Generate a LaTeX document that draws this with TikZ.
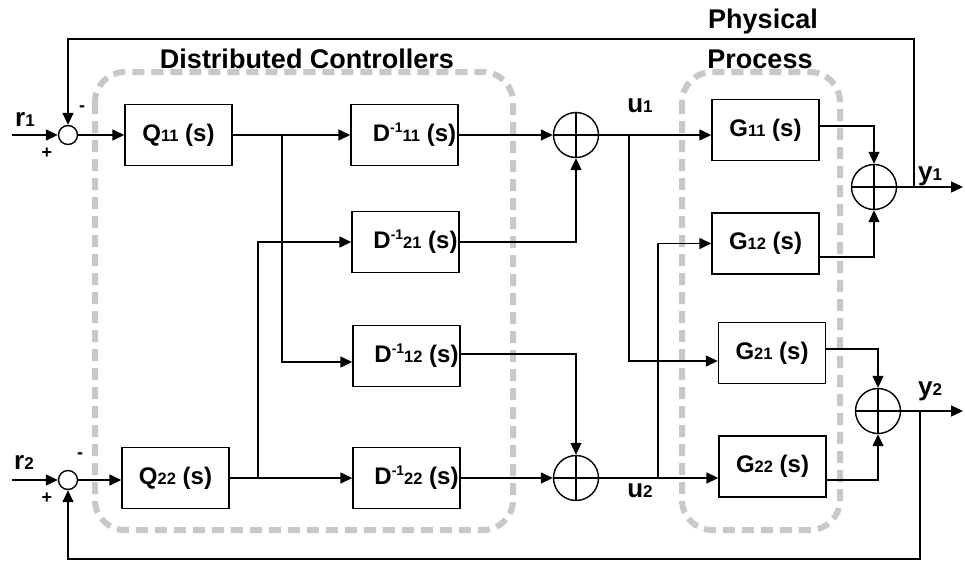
\documentclass[tikz,border=0pt]{standalone}
\usepackage{fontspec}
\setmainfont{Liberation Sans}
\usetikzlibrary{arrows.meta}
\definecolor{dgray}{RGB}{200,200,200}
\newcommand\subd[1]{{\fontsize{16.5}{18}\selectfont #1}}
\newcommand\lsub[1]{{\fontsize{17}{18}\selectfont #1}}
\newcommand\dlab[1]{\hspace*{20pt}D\raisebox{9pt}{\fontsize{14}{15}\selectfont -1}\subd{#1} (s)}
\newcommand\siglab[2]{{\fontsize{26}{28}\selectfont #1}\lsub{#2}}
\begin{document}
\begin{tikzpicture}[x=1pt,y=-1pt,font=\bfseries,line width=1.4pt,
  >={Triangle[length=12pt,width=11pt]},
  blk/.style={draw,minimum width=107pt,minimum height=61pt,inner sep=0pt,font=\bfseries\fontsize{24}{26}\selectfont},
  cmp/.style={circle,draw,minimum size=19pt,inner sep=0pt},
  sumj/.style={circle,draw,minimum size=45pt,inner sep=0pt,
    path picture={\draw[line width=1.4pt] (path picture bounding box.north) -- (path picture bounding box.south)
      (path picture bounding box.west) -- (path picture bounding box.east);}},
  dashbox/.style={draw=dgray,line width=6pt,dash pattern=on 12pt off 7pt,rounded corners=30pt},
  txt/.style={inner sep=0pt},
  ttl/.style={inner sep=0pt,font=\bfseries\fontsize{27}{30}\selectfont}]
\useasboundingbox (0,0) rectangle (965,563);
\fill[white] (0,0) rectangle (965,563);

% dashed groups
\draw[dashbox] (95,72) rectangle (513,530);
\draw[dashbox] (682,72) rectangle (840,530);

% titles
\node[ttl] (tdc) at (307,59) {Distributed Controllers};
\node[ttl] (tph) at (763,22) {Physical};
\node[ttl] (tpr) at (760,59) {Process};

% blocks
\node[blk] (Q11) at (178.5,135) {Q\subd{11} (s)};
\node[blk] (Q22) at (175.5,478) {Q\subd{22} (s)};
\node[blk] (D11) at (404.5,135) {\dlab{11}};
\node[blk] (D21) at (405.5,242) {\dlab{21}};
\node[blk] (D12) at (406.5,356) {\dlab{12}};
\node[blk] (D22) at (406.5,478) {\dlab{22}};
\node[blk] (G11) at (765.5,130) {G\subd{11} (s)};
\node[blk] (G12) at (765.5,243.5) {G\subd{12} (s)};
\node[blk] (G21) at (772,353) {G\subd{21} (s)};
\node[blk] (G22) at (772.5,466.5) {G\subd{22} (s)};

% summing junctions
\node[cmp] (C1) at (68,135) {};
\node[cmp] (C2) at (68,480) {};
\node[sumj] (S1) at (576,135) {};
\node[sumj] (S2) at (576,478) {};
\node[sumj] (S3) at (874,187) {};
\node[sumj] (S4) at (878,411) {};

% coordinates
\coordinate (rin1) at (12,135);
\coordinate (rin2) at (12,480);
\coordinate (J1) at (282,135);
\coordinate (J2) at (258,478);
\coordinate (J3) at (629,135);
\coordinate (J4) at (658,478);
\coordinate (J5) at (914,187);
\coordinate (J6) at (920,411);
\coordinate (top) at (914,39);
\coordinate (bot) at (920,559);
\coordinate (y1end) at (963,187);
\coordinate (y2end) at (963,411);

% inputs
\draw[->] (rin1) -- (C1.west);
\draw[->] (rin2) -- (C2.west);
\draw[->] (C1.east) -- (C1.east -| Q11.west);
\draw[->] (C2.east) -- (C2.east -| Q22.west);

% controller
\draw[->] (Q11.east) -- (D11.west);
\draw[->] (J1) |- (D12.west |- 0,362);
\draw[->] (Q22.east) -- (D22.west);
\draw[->] (J2) |- (D21.west);
\draw[->] (D11.east) -- (S1.west);
\draw[->] (D21.east) -| (S1.south);
\draw[->] (D12.east |- 0,354) -| (S2.north);
\draw[->] (D22.east) -- (S2.west);

% plant inputs
\draw[->] (S1.east) -- (S1.east -| G11.west);
\draw[->] (J3) |- (G21.west |- 0,361);
\draw[->] (S2.east) -- (S2.east -| G22.west);
\draw[->] (J4) |- (G12.west);

% plant outputs
\draw[->] (G11.east |- 0,126) -| (S3.north);
\draw[->] (G12.east |- 0,257) -| (S3.south);
\draw[->] (G21.east |- 0,349) -| (S4.north);
\draw[->] (G22.east |- 0,480) -| (S4.south);

% outputs and feedback
\draw[->] (S3.east) -- (y1end);
\draw[->] (S4.east) -- (y2end);
\draw[->] (J5) -- (top) -| (C1.north);
\draw[->] (J6) -- (bot) -| (C2.south);

% signal labels
\node[txt] (lr1) at (25,119) {\siglab{r}{1}};
\node[txt] (lr2) at (24,462) {\siglab{r}{2}};
\node[txt] (lu1) at (640,106) {\siglab{u}{1}};
\node[txt] (lu2) at (640,491) {\siglab{u}{2}};
\node[txt] (ly1) at (930,176) {\siglab{y}{1}};
\node[txt] (ly2) at (930,391) {\siglab{y}{2}};
\node[txt,font=\bfseries\fontsize{18}{20}\selectfont] (m1) at (82,109) {-};
\node[txt,font=\bfseries\fontsize{18}{20}\selectfont] (p1) at (47,153) {+};
\node[txt,font=\bfseries\fontsize{18}{20}\selectfont] (m2) at (80,456) {-};
\node[txt,font=\bfseries\fontsize{18}{20}\selectfont] (p2) at (47,498) {+};
\end{tikzpicture}
\end{document}
